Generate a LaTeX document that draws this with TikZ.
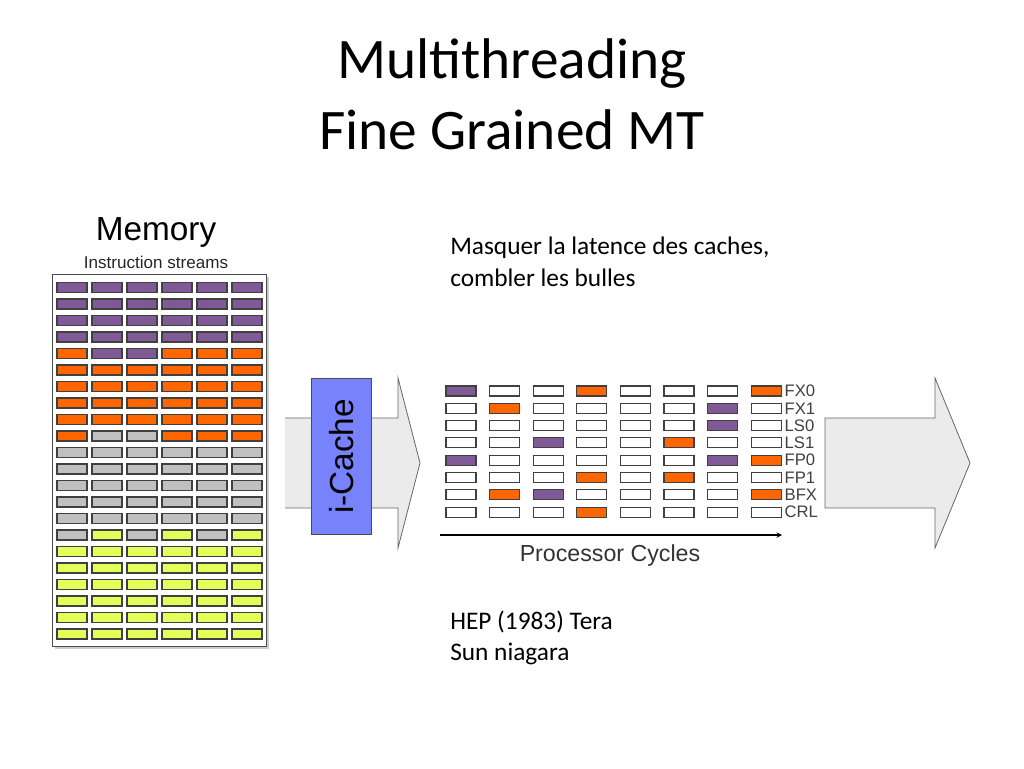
\documentclass[tikz,border=0pt]{standalone}
\usepackage{fontspec}
\setmainfont{Carlito}
\newfontfamily\arialfont{Liberation Sans}
\usetikzlibrary{shapes.arrows,positioning,calc,shadows}
\definecolor{cpurple}{RGB}{128,90,150}
\definecolor{corange}{RGB}{255,102,0}
\definecolor{cgray}{RGB}{192,192,192}
\definecolor{cyellow}{RGB}{226,255,90}
\definecolor{cblue}{RGB}{120,130,250}
\colorlet{cW}{white}
\colorlet{cP}{cpurple}
\colorlet{cO}{corange}
\colorlet{cG}{cgray}
\colorlet{cY}{cyellow}
\begin{document}
\begin{tikzpicture}
[x=0.75pt,y=-0.75pt,
cell/.style={draw=black!75,thick,minimum width=22.5pt,minimum height=7.5pt,inner sep=0pt},
bigarrow/.style={draw=black!60,fill=black!8,line width=0.6pt},
txt/.style={font=\fontsize{19}{22}\selectfont,anchor=west,inner sep=0pt},
unit/.style={font=\arialfont\fontsize{12.5}{14}\selectfont\color{black!75},anchor=west,inner sep=0pt}]
\useasboundingbox (0,0) rectangle (1024,768);
% titles
\node[font=\fontsize{43}{48}\selectfont] (t1) at (512,64) {Multithreading};
\node[font=\fontsize{43}{48}\selectfont] (t2) at (512,130) {Fine Grained MT};
\node[txt] (m1) at (450,248) {Masquer la latence des caches,};
\node[txt] (m2) at (450,278) {combler les bulles};
\node[txt] (h1) at (450,622) {HEP (1983) Tera};
\node[txt] (h2) at (450,654) {Sun niagara};

% memory
\node[font=\arialfont\fontsize{25}{28}\selectfont] (mem) at (156,232) {Memory};
\node[font=\arialfont\fontsize{12.8}{14}\selectfont,text=black!85] (ins) at (156,262) {Instruction streams};
\draw[draw=black!70,fill=white,drop shadow={shadow xshift=2pt,shadow yshift=-2pt,fill=black!40}] (52,274) rectangle (266,646);
\foreach \row [count=\r] in {
  {P,P,P,P,P,P},{P,P,P,P,P,P},{P,P,P,P,P,P},{P,P,P,P,P,P},
  {O,P,P,O,O,O},{O,O,O,O,O,O},{O,O,O,O,O,O},{O,O,O,O,O,O},
  {O,O,O,O,O,O},{O,G,G,O,O,O},{G,G,G,G,G,G},{G,G,G,G,G,G},
  {G,G,G,G,G,G},{G,G,G,G,G,G},{G,G,G,G,G,G},{G,Y,G,Y,G,Y},
  {Y,Y,Y,Y,Y,Y},{Y,Y,Y,Y,Y,Y},{Y,Y,Y,Y,Y,Y},{Y,Y,Y,Y,Y,Y},
  {Y,Y,Y,Y,Y,Y},{Y,Y,Y,Y,Y,Y}}
  \foreach \c [count=\k] in \row
    \node[cell,fill=c\c] (m-\r-\k) at ({72+35*(\k-1)},{287.5+16.5*(\r-1)}) {};

% arrows and i-cache
\draw[bigarrow] (285,418) -- (398,418) -- (398,378) -- (420,463) -- (398,548) -- (398,508) -- (285,508);
\node[draw=black!70,fill=cblue,minimum width=45pt,minimum height=117pt,inner sep=0pt] (icache) at (341.5,456.5) {};
\node[rotate=90,font=\arialfont\fontsize{25}{28}\selectfont] (iclab) at (icache) {i-Cache};
\draw[bigarrow] (825,418) -- (935,418) -- (935,378) -- (970,463) -- (935,548) -- (935,508) -- (825,508) -- cycle;

% processor cycles
\foreach \row/\lab [count=\r] in {
  {P,W,W,O,W,W,W,O}/FX0,{W,O,W,W,W,W,P,W}/FX1,{W,W,W,W,W,W,P,W}/LS0,
  {W,W,P,W,W,O,W,W}/LS1,{P,W,W,W,W,W,P,O}/FP0,{W,W,W,O,W,O,W,W}/FP1,
  {W,O,P,W,W,W,W,O}/BFX,{W,W,W,O,W,W,W,W}/CRL}
{
  \foreach \c [count=\k] in \row
    \node[cell,thick,fill=c\c] (p-\r-\k) at ({461+43.6*(\k-1)},{391+17.3*(\r-1)}) {};
  \node[unit,right=2pt of p-\r-8] (u-\r) {\lab};
}
\coordinate (ax0) at (440,535);
\coordinate (ax1) at (782,535);
\draw[->,>=stealth,thick] (ax0) -- (ax1);
\node[font=\arialfont\fontsize{17.4}{20}\selectfont,text=black!80] (pc) at (610,555) {Processor Cycles};
\end{tikzpicture}
\end{document}
